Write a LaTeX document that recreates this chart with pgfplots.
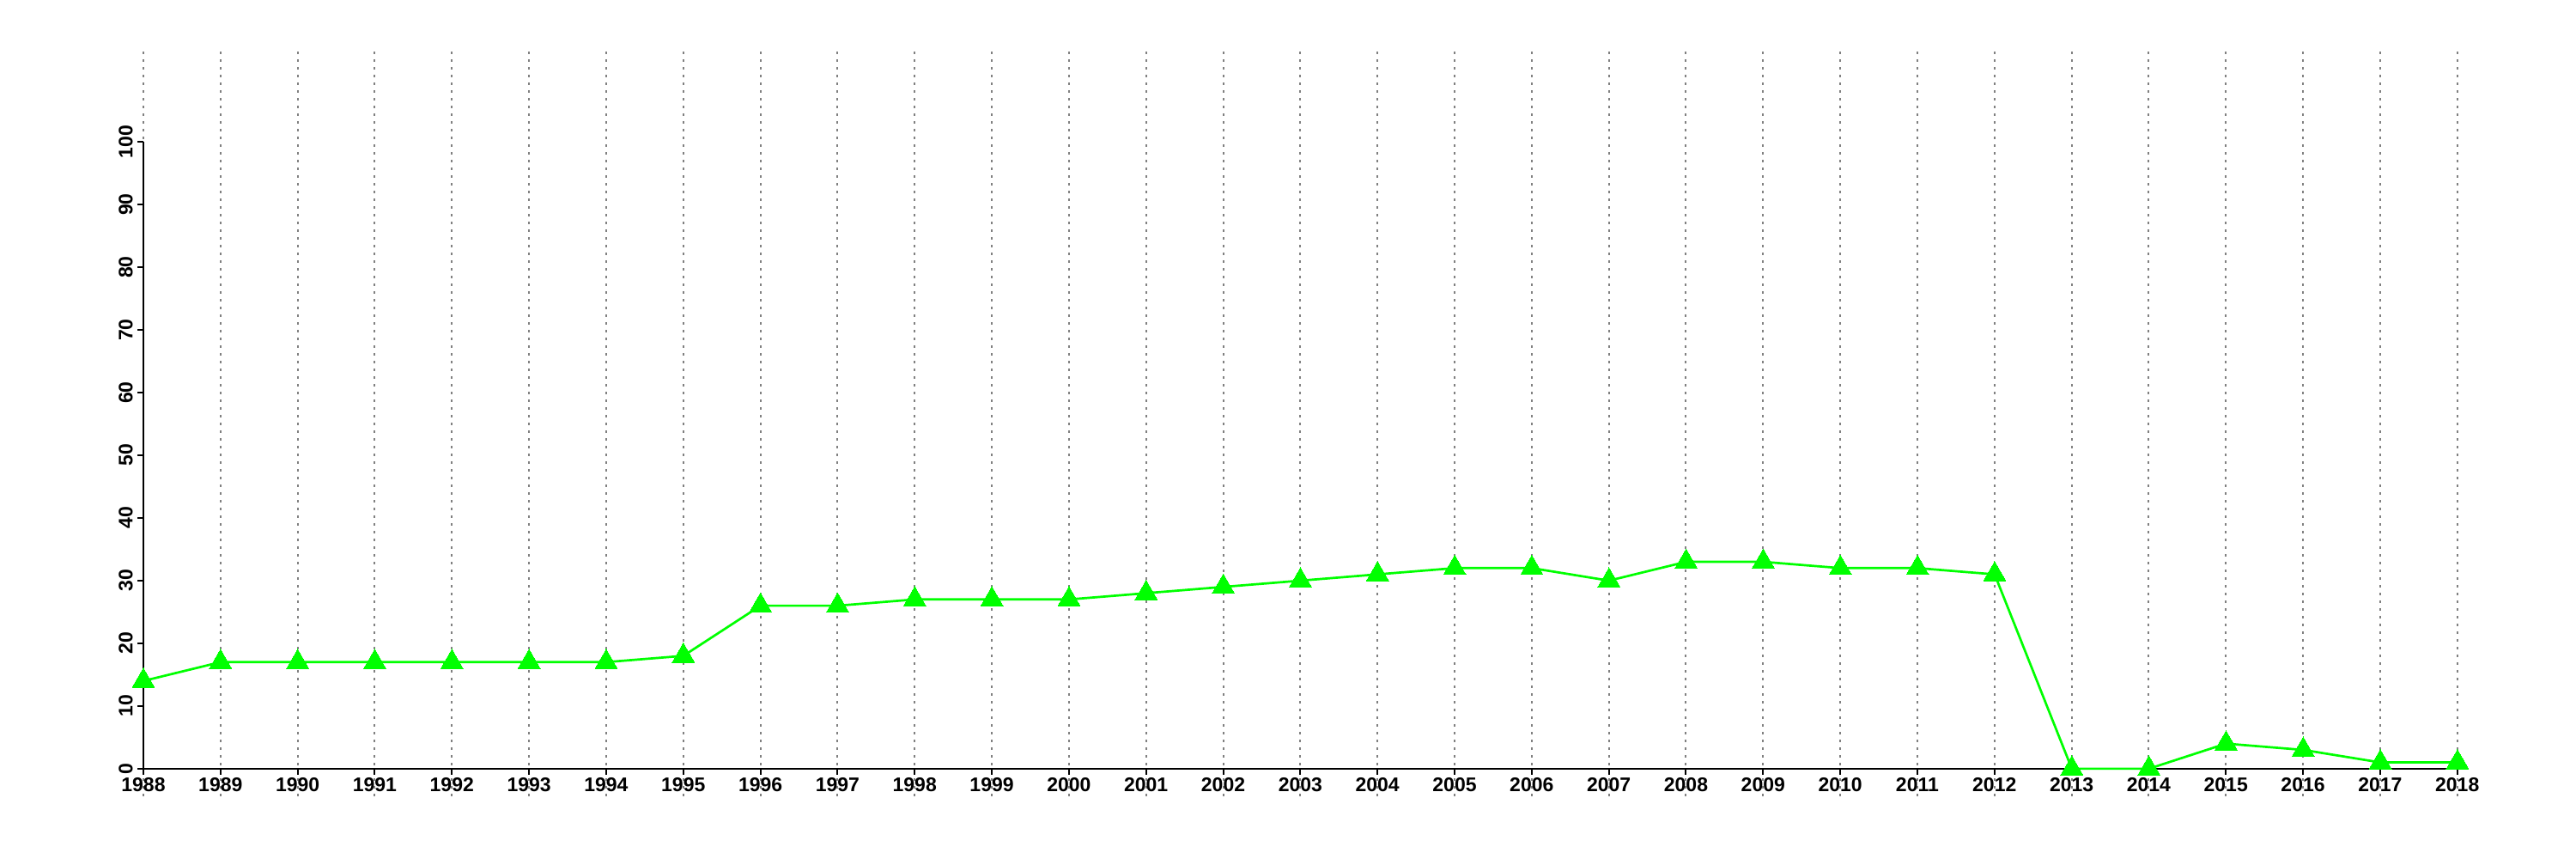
\documentclass[border=0pt]{standalone}
\usepackage{fontspec}
\setmainfont{Liberation Sans}
\usepackage{pgfplots}
\pgfplotsset{compat=1.18}
\definecolor{pgreen}{RGB}{0,255,0}
\definecolor{gridgray}{RGB}{128,128,128}
\begin{document}
\begin{tikzpicture}
\useasboundingbox (0,0) rectangle (1500pt,500pt);
\begin{axis}[
  at={(83.5pt,36.5pt)}, anchor=south west,
  scale only axis, width=1347.5pt, height=433.5pt,
  xmin=1988, xmax=2018, ymin=-4.4, ymax=114.4,
  axis x line*=middle, axis y line*=left,
  hide obscured x ticks=false, hide obscured y ticks=false,
  y axis line style={draw=none},
  x axis line style={line width=1pt, black},
  xtick={1988,1989,...,2018}, ytick={0,10,...,100},
  xtick align=outside, ytick align=outside,
  major tick length=3.5pt,
  tick style={line width=1pt, black},
  xmajorgrids,
  major x grid style={gridgray, line width=1pt, dash pattern=on 1.3pt off 3.2pt},
  /pgf/number format/assume math mode=true,
  /pgf/number format/1000 sep={},
  ticklabel style={font=\bfseries\fontsize{11.5}{13}\selectfont},
  xticklabel style={inner sep=1.5pt, anchor=north},
  yticklabel style={rotate=90, anchor=south, inner sep=2.5pt},
  clip=false,
]
\addplot[color=pgreen, line width=1.35pt, mark=triangle*, mark size=7.5pt,
  mark options={fill=pgreen, draw=pgreen, line width=0pt}] coordinates {
(1988,14) (1989,17) (1990,17) (1991,17) (1992,17) (1993,17) (1994,17)
(1995,18) (1996,26) (1997,26) (1998,27) (1999,27) (2000,27) (2001,28)
(2002,29) (2003,30) (2004,31) (2005,32) (2006,32) (2007,30) (2008,33)
(2009,33) (2010,32) (2011,32) (2012,31) (2013,0) (2014,0) (2015,4)
(2016,3) (2017,1) (2018,1)
};
\draw[line width=1pt, black] (axis cs:1988,0) -- (axis cs:1988,100);
\end{axis}
\end{tikzpicture}
\end{document}
